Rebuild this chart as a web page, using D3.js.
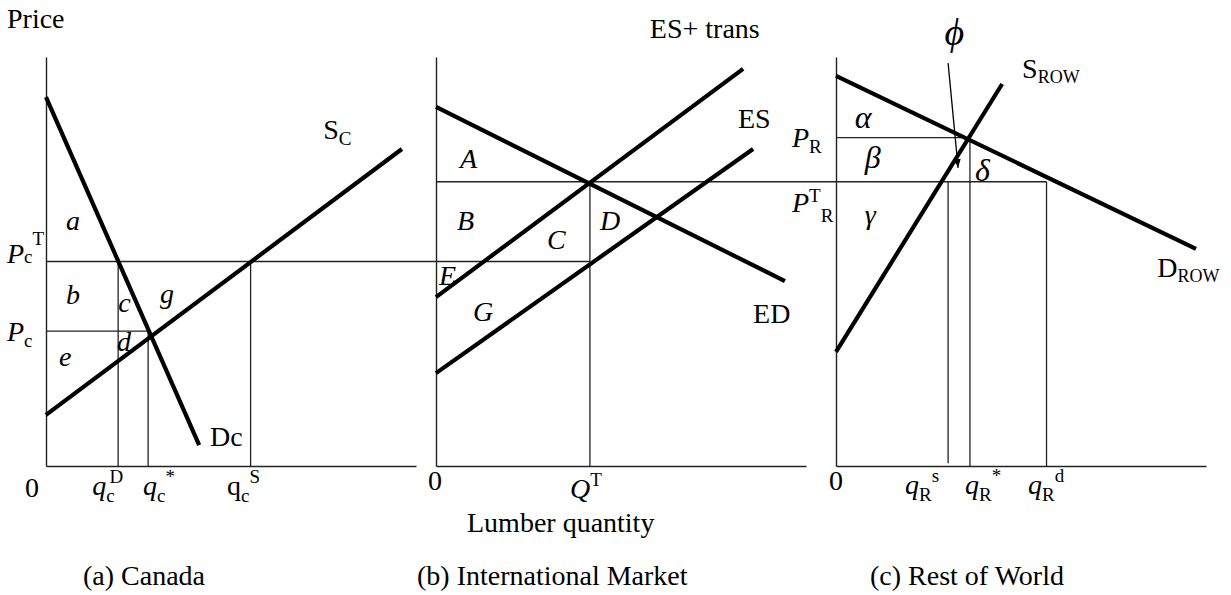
<!DOCTYPE html>
<html>
<head>
<meta charset="utf-8">
<script src="https://cdn.jsdelivr.net/npm/d3@7"></script>
<style>
  body { margin: 0; background: #fff; }
  svg text { font-family: "Liberation Serif", "Times New Roman", serif; fill: #000; }
</style>
</head>
<body>
<script>
// curves, quantity 0-100 on x, price 0-100 on y
const canadaDemand = [[0, 90.2], [41.4, 5.1]];
const canadaSupply = [[0, 12.5], [96.2, 77.5]];
const excessDemand = [[0, 87.8], [94.3, 45.2]];
const excessSupplyTrans = [[0, 41.3], [83.0, 97.1]];
const excessSupply = [[0, 22.7], [85.7, 77.5]];
const rowDemand = [[0, 95.4], [97.3, 53.1]];
const rowSupply = [[0, 27.9], [44.9, 93.4]];

// prices
const canadaPrices = [50, 33];      // Pc^T, Pc
const worldPrices = [69.5, 80.3];   // P^T_R, P_R
// quantities
const canadaQty = [19.5, 27.6, 55.3];  // qc^D, qc*, qc^S
const tradeQty = [41.6];               // Q^T
const rowQty = [30.3, 36.2, 56.9];     // qR^s, qR*, qR^d
const phiArrow = [[30.3, 98.5], [33.0, 72.9]];

// tick labels: [base, sub, sup]
const canadaQtyLabels = [["q", "c", "D"], ["q", "c", "*"], ["q", "c", "S"]];
const tradeQtyLabels = [["Q", "", "T"]];
const rowQtyLabels = [["q", "R", "s"], ["q", "R", "*"], ["q", "R", "d"]];
const captions = ["(a) Canada", "(b) International Market", "(c) Rest of World"];

const w = 1231, h = 595;
const panelLeft = [46, 436, 836];
const pw = 370;

const svg = d3.select("body").append("svg")
  .attr("width", w).attr("height", h)
  .style("background-color", "white");

const x = panelLeft.map(l => d3.scaleLinear().domain([0, 100]).range([l, l + pw]));
const y = d3.scaleLinear().domain([0, 100]).range([466, 57]);

// axes
x.forEach((sx, i) => {
  svg.append("g").attr("class", "axis")
    .attr("transform", "translate(0," + y(0) + ")")
    .call(d3.axisBottom(sx).tickValues([]).tickSizeOuter(0));
  svg.append("g").attr("class", "axis")
    .attr("transform", "translate(" + sx(0) + ",0)")
    .call(d3.axisLeft(y).tickValues([]).tickSizeOuter(0));
});
svg.selectAll(".axis path").attr("stroke", "#222").attr("stroke-width", 1.4);

const thin = (x1, y1, x2, y2) => svg.append("line")
  .attr("x1", x1).attr("y1", y1).attr("x2", x2).attr("y2", y2)
  .attr("stroke", "#222").attr("stroke-width", 1.3);

// canada guides
thin(x[0](0), y(canadaPrices[0]), x[1](tradeQty[0]), y(canadaPrices[0]));
thin(x[0](0), y(canadaPrices[1]), x[0](canadaQty[1]), y(canadaPrices[1]));
thin(x[0](canadaQty[0]), y(canadaPrices[0]), x[0](canadaQty[0]), y(0));
thin(x[0](canadaQty[1]), y(canadaPrices[1]), x[0](canadaQty[1]), y(0));
thin(x[0](canadaQty[2]), y(canadaPrices[0]), x[0](canadaQty[2]), y(0));
// world guides
thin(x[1](0), y(worldPrices[0]), x[2](rowQty[2]), y(worldPrices[0]));
thin(x[1](tradeQty[0]), y(worldPrices[0]), x[1](tradeQty[0]), y(0));
thin(x[2](0), y(worldPrices[1]), x[2](rowQty[1]), y(worldPrices[1]));
thin(x[2](rowQty[0]), y(worldPrices[0]), x[2](rowQty[0]), y(0.7));
thin(x[2](rowQty[1]), y(worldPrices[1]), x[2](rowQty[1]), y(0));
thin(x[2](rowQty[2]), y(worldPrices[0]), x[2](rowQty[2]), y(0));

// curves
const curves = [
  [0, canadaDemand], [0, canadaSupply],
  [1, excessDemand], [1, excessSupplyTrans], [1, excessSupply],
  [2, rowDemand], [2, rowSupply]
];
curves.forEach(([i, d]) => {
  svg.append("path")
    .attr("d", d3.line().x(p => x[i](p[0])).y(p => y(p[1]))(d))
    .attr("fill", "none").attr("stroke", "#000").attr("stroke-width", 4.2);
});

// phi arrow
svg.append("defs").append("marker")
  .attr("id", "arr").attr("viewBox", "0 0 10 10").attr("refX", 10).attr("refY", 5)
  .attr("markerWidth", 9).attr("markerHeight", 9).attr("markerUnits", "userSpaceOnUse")
  .attr("orient", "auto")
  .append("path").attr("d", "M0,1L10,5L0,9Z").attr("fill", "#000");
svg.append("line")
  .attr("x1", x[2](phiArrow[0][0])).attr("y1", y(phiArrow[0][1]))
  .attr("x2", x[2](phiArrow[1][0])).attr("y2", y(phiArrow[1][1]))
  .attr("stroke", "#000").attr("stroke-width", 1.3).attr("marker-end", "url(#arr)");

// text in runs: [text, {dy, size, it, back}]
function runs(px, py, parts) {
  let cx = px;
  parts.forEach(([t, o]) => {
    o = o || {};
    cx -= (o.back || 0);
    const el = svg.append("text")
      .attr("x", cx).attr("y", py + (o.dy || 0))
      .attr("font-size", o.size || 28)
      .attr("font-style", o.it ? "italic" : "normal")
      .text(t);
    cx += el.node().getComputedTextLength();
  });
}
const at = (i, q, p, parts) => runs(x[i](q), y(p), parts);
const I = {it: true};
const GR = {it: true, size: 32};
const SUB = {dy: 7, size: 19};
const SUP = {dy: -12, size: 19};

svg.append("text").attr("x", x[0](0) - 39).attr("y", y(100) - 29)
  .attr("font-size", 28).text("Price");

// panel a
at(0, 74.9, 80.0, [["S"], ["C", {dy: 6, size: 19}]]);
at(0, 5.4, 57.7, [["a", I]]);
at(0, 5.4, 39.6, [["b", I]]);
at(0, 19.5, 37.7, [["c", I]]);
at(0, 30.8, 39.9, [["g", I]]);
at(0, 19.2, 28.1, [["d", I]]);
at(0, 3.5, 24.4, [["e", I]]);
at(0, 44.3, 4.9, [["Dc"]]);
runs(x[0](0) - 39, y(canadaPrices[0]) + 1, [["P", I], ["c", {size: 19}], ["T", {dy: -18, size: 19}]]);
runs(x[0](0) - 39, y(canadaPrices[1]) + 10, [["P", I], ["c", {dy: 6, size: 19}]]);

// panel b
at(1, 57.8, 104.6, [["ES+ trans"]]);
at(1, 81.6, 82.6, [["ES"]]);
at(1, 6.5, 72.9, [["A", I]]);
at(1, 5.7, 57.7, [["B", I]]);
at(1, 30.0, 53.1, [["C", I]]);
at(1, 44.3, 57.7, [["D", I]]);
at(1, 0.8, 44.3, [["E", I]]);
at(1, 10.0, 35.5, [["G", I]]);
at(1, 85.7, 35.0, [["ED"]]);

// panel c
at(2, 29.3, 103.0, [["\u03D5", {it: true, size: 38}]]);
at(2, 50.3, 94.9, [["S"], ["ROW", {dy: 5, size: 18}]]);
at(2, 86.8, 46.2, [["D"], ["ROW", {dy: 5, size: 18}]]);
at(2, 5.1, 82.6, [["\u03B1", GR]]);
at(2, 7.8, 72.9, [["\u03B2", GR]]);
at(2, 37.6, 69.7, [["\u03B4", GR]]);
at(2, 7.8, 59.2, [["\u03B3", I]]);
runs(x[2](0) - 44, y(worldPrices[1]) + 9, [["P", I], ["R", {dy: 6, size: 19}]]);
runs(x[2](0) - 44, y(worldPrices[0]) + 30, [["P", I], ["T", {dy: -10, size: 19}], ["R", {dy: 10, size: 19}]]);

// axis origin labels
[[0, -21, 31], [1, -8, 24], [2, -7, 24]].forEach(([i, dx, dy]) => {
  svg.append("text").attr("x", x[i](0) + dx).attr("y", y(0) + dy)
    .attr("font-size", 28).text("0");
});

// quantity tick labels
const tickLabel = (i, v, lab, dx, dy, upright, stackSup) => {
  const parts = [[lab[0], {it: !upright}]];
  if (lab[1]) parts.push([lab[1], SUB]);
  if (lab[2]) parts.push([lab[2], Object.assign({}, SUP, stackSup ? {back: stackSup} : {})]);
  runs(x[i](v) + dx, y(0) + dy, parts);
};
tickLabel(0, canadaQty[0], canadaQtyLabels[0], -26, 29, false, 5);
tickLabel(0, canadaQty[1], canadaQtyLabels[1], -5, 29, false, 0);
tickLabel(0, canadaQty[2], canadaQtyLabels[2], -23.5, 29, true, 0);
tickLabel(1, tradeQty[0], tradeQtyLabels[0], -20, 32, false, 0);
rowQty.forEach((v, k) => {
  tickLabel(2, v, rowQtyLabels[k], [-43, -5, -18.5][k], 28, false, 0);
});

svg.append("text").attr("x", x[1](0) + 31).attr("y", y(0) + 66)
  .attr("font-size", 28).text("Lumber quantity");

[37, -19, 34].forEach((dx, i) => {
  svg.append("text").attr("x", x[i](0) + dx).attr("y", y(0) + 119)
    .attr("font-size", 28).text(captions[i]);
});
</script>
</body>
</html>
